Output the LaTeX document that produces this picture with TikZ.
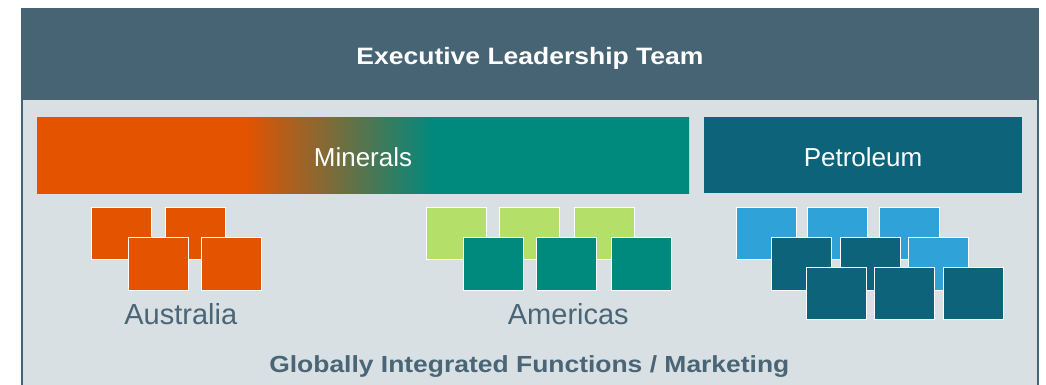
\documentclass[tikz,border=0pt]{standalone}
\usepackage{fontspec}
\setmainfont{Liberation Sans}
\usepackage{graphicx}
\definecolor{hdr}{HTML}{476475}
\definecolor{bgc}{HTML}{D8E0E4}
\definecolor{org}{HTML}{E45300}
\definecolor{tealc}{HTML}{00897D}
\definecolor{lgreen}{HTML}{B4DF69}
\definecolor{lblue}{HTML}{2FA3D8}
\definecolor{petrol}{HTML}{0C637A}
\definecolor{lbl}{HTML}{4A6576}
\pgfdeclarehorizontalshading{mineralshade}{100bp}{color(0bp)=(org); color(40.95bp)=(org); color(55.4bp)=(tealc); color(100bp)=(tealc)}
\tikzset{
  sq/.style={draw=white, line width=1pt, minimum width=60pt, minimum height=52.5pt, inner sep=0pt},
  bar/.style={minimum height=76pt, inner sep=0pt},
  bartext/.style={anchor=base, text=white, font=\fontsize{26}{26}\selectfont},
  region/.style={anchor=base, text=lbl, font=\fontsize{29}{29}\selectfont},
}
\begin{document}
\begin{tikzpicture}[x=1pt,y=-1pt]
\useasboundingbox (0,0) rectangle (1046,384);
\fill[white] (0,0) rectangle (1046,384);
% frame body
\fill[bgc] (22,100) rectangle (1038,392);
\draw[hdr, line width=2pt] (22,100) -- (22,392);
\draw[hdr, line width=2pt] (1038,100) -- (1038,392);
% header
\node[fill=hdr, minimum width=1018pt, minimum height=92pt, inner sep=0pt] (header) at (530,54) {};
\node[anchor=base, text=white] (headertext) at (530,64)
  {\resizebox{347pt}{\height}{\fontsize{23.7}{23.7}\selectfont\bfseries Executive Leadership Team}};
% bars
\node[bar, shade, shading=mineralshade, minimum width=652pt] (minerals) at (363,155) {};
\node[bartext] (mineralstext) at (363,166) {Minerals};
\node[bar, fill=petrol, minimum width=318pt] (petroleum) at (863,155) {};
\node[bartext] (petroleumtext) at (863,166) {Petroleum};
% Australia
\node[sq, fill=org] (au1) at (121.7,233.7) {};
\node[sq, fill=org] (au2) at (195,233.7) {};
\node[sq, fill=org] (au3) at (158.3,263.8) {};
\node[sq, fill=org] (au4) at (231.7,263.8) {};
\node[region] (australia) at (180.8,324.3) {Australia};
% Americas
\node[sq, fill=lgreen] (am1) at (456.4,233.7) {};
\node[sq, fill=lgreen] (am2) at (529.7,233.7) {};
\node[sq, fill=lgreen] (am3) at (604.8,233.7) {};
\node[sq, fill=tealc] (am4) at (493,263.8) {};
\node[sq, fill=tealc] (am5) at (566.3,263.8) {};
\node[sq, fill=tealc] (am6) at (641.7,263.8) {};
\node[region] (americas) at (568.3,324.3) {Americas};
% Petroleum
\node[sq, fill=lblue] (pe1) at (766,233.7) {};
\node[sq, fill=lblue] (pe2) at (837.7,233.7) {};
\node[sq, fill=lblue] (pe3) at (909.7,233.7) {};
\node[sq, fill=petrol] (pe4) at (801.8,263.8) {};
\node[sq, fill=petrol] (pe5) at (870.5,263.8) {};
\node[sq, fill=lblue] (pe6) at (938.8,263.8) {};
\node[sq, fill=petrol] (pe7) at (836.3,293.7) {};
\node[sq, fill=petrol] (pe8) at (904.7,293.7) {};
\node[sq, fill=petrol] (pe9) at (973.3,293.7) {};
% footer text
\node[anchor=base, text=lbl] (functions) at (529.3,372.7)
  {\resizebox{520pt}{\height}{\fontsize{23.3}{23.3}\selectfont\bfseries Globally Integrated Functions / Marketing}};
\end{tikzpicture}
\end{document}
